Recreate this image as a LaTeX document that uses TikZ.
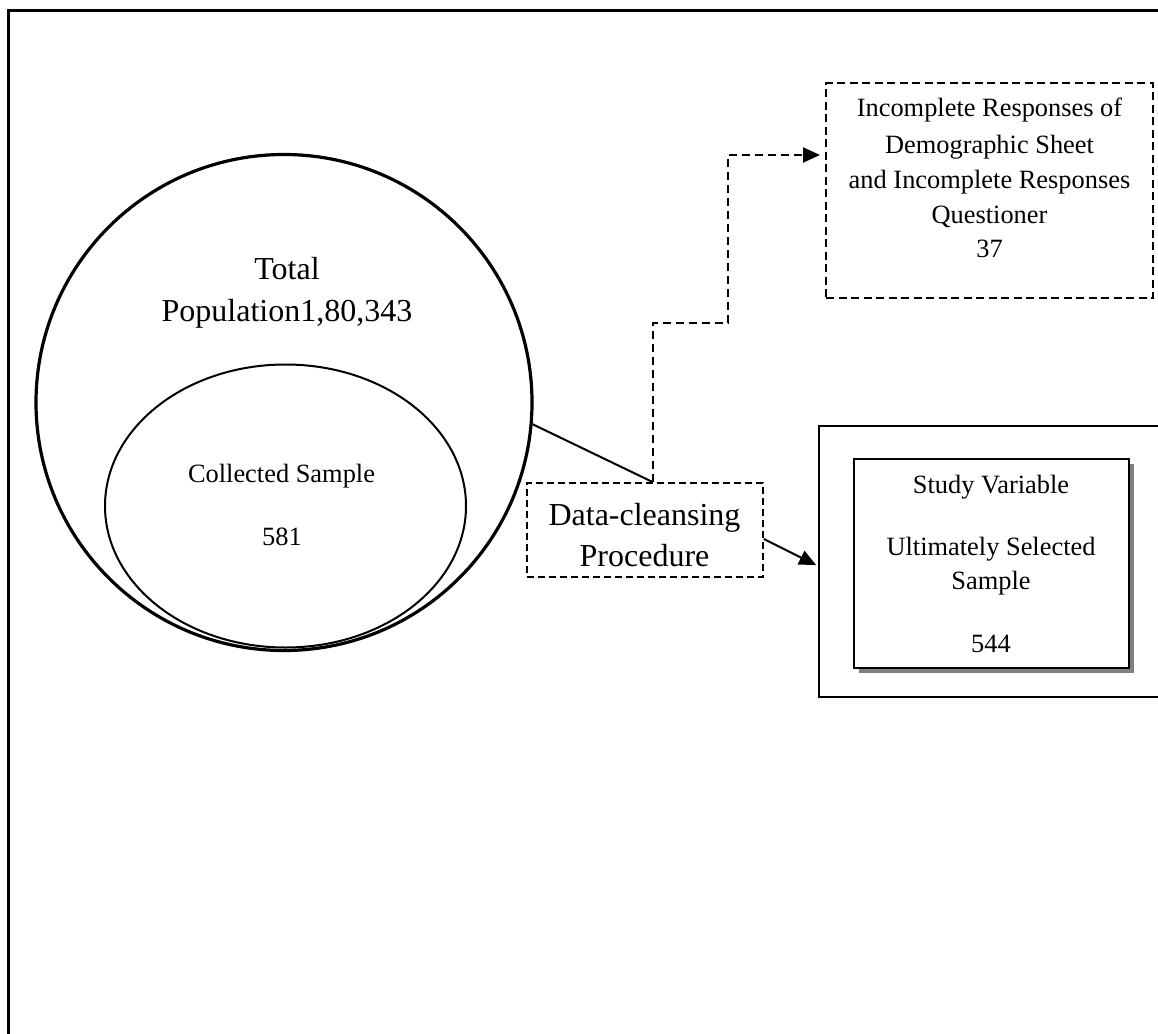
\documentclass[tikz,border=0pt]{standalone}
\usepackage{fontspec}
\setmainfont{Liberation Serif}
\usetikzlibrary{arrows.meta,shapes.geometric,shadows}
\begin{document}
\begin{tikzpicture}[x=1pt,y=-1pt,
  bigtext/.style={anchor=base,inner sep=0pt,font=\fontsize{32}{38}\selectfont},
  smalltext/.style={anchor=base,inner sep=0pt,font=\fontsize{26.4}{32}\selectfont},
  dashbox/.style={draw,rectangle,inner sep=0pt,line width=1.6pt,dash pattern=on 7pt off 4pt},
  solidbox/.style={draw,rectangle,inner sep=0pt,anchor=north west},
  plainline/.style={line width=2pt},
  dashline/.style={line width=2pt,dash pattern=on 8pt off 5pt},
  tip/.style={-{Triangle[length=17pt,width=15pt]}}]
\useasboundingbox (0,0) rectangle (1158,1033);
\clip (0,0) rectangle (1158,1033);
\fill[white] (0,0) rectangle (1158,1033);

% page frame (open to the right and bottom)
\draw[line width=2.6pt] (1165,10.5) -- (8.5,10.5) -- (8.5,1040);

% population and sample
\node[circle,draw,line width=3.2pt,minimum size=496pt,inner sep=0pt] (pop) at (284,402.5) {};
\node[ellipse,draw,line width=2pt,minimum width=361pt,minimum height=283pt,inner sep=0pt] (smp) at (285.5,506) {};
\node[bigtext] (pop1) at (287,279) {Total};
\node[bigtext] (pop2) at (287,321) {Population1,80,343};
\node[smalltext] (smp1) at (281.5,482) {Collected Sample};
\node[smalltext] (smp2) at (282,545) {581};

% data-cleansing step
\node[dashbox,minimum width=236pt,minimum height=94pt] (dc) at (645,530) {};
\node[bigtext] (dc1) at (644.5,525) {Data-cleansing};
\node[bigtext] (dc2) at (644.5,566) {Procedure};

% discarded responses
\node[dashbox,line width=2pt,dash pattern=on 8pt off 4.5pt,minimum width=327pt,minimum height=215pt] (inc) at (989.5,190.5) {};
\node[smalltext] (inc1) at (989.5,116) {Incomplete Responses of};
\node[smalltext] (inc2) at (989.5,153) {Demographic Sheet};
\node[smalltext] (inc3) at (989.5,188) {and Incomplete Responses};
\node[smalltext] (inc4) at (989.5,223) {Questioner};
\node[smalltext] (inc5) at (989.5,257) {37};

% retained sample
\node[solidbox,line width=1.8pt,minimum width=360pt,minimum height=271pt] (rb) at (818,425) {};
\node[solidbox,line width=1.6pt,fill=white,minimum width=275pt,minimum height=209pt,
  drop shadow={shadow xshift=5pt,shadow yshift=-5pt,fill=black!50,opacity=1}] (sv) at (853,458) {};
\node[smalltext] (sv1) at (991,493) {Study Variable};
\node[smalltext] (sv2) at (991,555) {Ultimately Selected};
\node[smalltext] (sv3) at (991,589) {Sample};
\node[smalltext] (sv4) at (991,652) {544};

% connectors
\coordinate (bend) at (728,323);
\coordinate (incy) at (0,155);
\coordinate (rby) at (0,566);
\draw[plainline] (pop.-5.3) -- ([xshift=8pt]dc.north);
\draw[dashline,tip,shorten >=5pt] ([xshift=8pt]dc.north) |- (bend) |- (inc.west |- incy);
\draw[plainline,tip,shorten >=2pt] ([yshift=-9pt]dc.east) -- (rb.west |- rby);
\end{tikzpicture}
\end{document}
